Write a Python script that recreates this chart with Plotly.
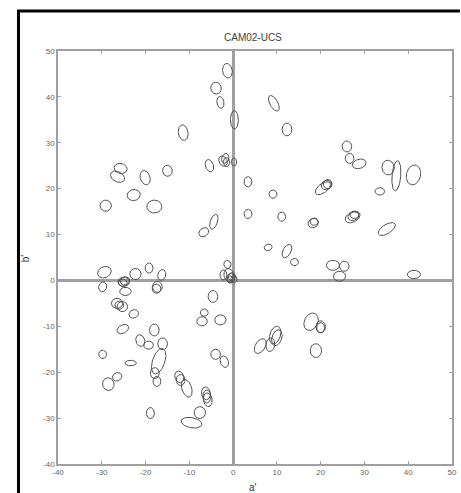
import numpy as np
import plotly.graph_objects as go

# Ellipse data: centre a', centre b', semi-axis 1, semi-axis 2, rotation (deg, CCW)
ell_a = [-1.3, -3.9, -2.9, 0.3, -11.4, -5.4, -2.3, -1.8, -1.5, 0.2,
         -25.7, -26.4, -20.1, -15.0, -22.7, -29.1, -18.0, -4.4, -6.7,
         9.3, 12.3, 26.0, 26.6, 28.8, 35.4, 37.3, 41.2, 33.5,
         20.5, 21.3, 21.6, 3.4, 9.1, 3.4, 11.1, 18.3, 18.5,
         27.3, 27.5, 27.7, 35.1, 8.0, 12.3, 14.0, 22.8, 25.4, 24.3, 41.3,
         17.8, 20.0, 20.0, 18.9, 9.6, 8.5, 6.2, 10.0,
         -2.9, -6.6, -7.1, -4.6, -29.4, -29.8, -25.0, -24.7, -25.2,
         -22.3, -19.2, -16.3, -17.3, -17.5, -24.6, -26.5, -25.3, -26.0,
         -22.7, -25.2, -18.0, -21.2, -19.3, -16.1, -29.8, -23.4, -17.0,
         -17.9, -17.4, -26.5, -28.5, -12.3, -12.0, -10.6, -6.2, -5.8, -6.0,
         -18.9, -7.6, -9.5, -4.0, -2.0,
         -1.0, -0.5, -0.3, -0.7, -1.3, -2.2, 0.2]
ell_b = [45.7, 41.9, 38.8, 35.0, 32.2, 25.0, 26.0, 26.6, 25.8, 25.8,
         24.4, 22.6, 22.4, 23.9, 18.6, 16.3, 16.1, 12.8, 10.5,
         38.6, 32.9, 29.2, 26.6, 25.4, 24.6, 22.8, 23.0, 19.4,
         20.1, 20.8, 21.0, 21.5, 18.8, 14.5, 13.9, 12.5, 12.8,
         13.8, 14.0, 14.3, 11.2, 7.2, 6.4, 4.0, 3.3, 3.1, 0.9, 1.3,
         -9.0, -10.1, -10.3, -15.3, -11.9, -14.0, -14.3, -12.5,
         -8.6, -7.0, -8.9, -3.5, 1.8, -1.4, -0.3, -0.1, -0.5,
         1.4, 2.7, 1.2, -1.4, -1.8, -2.4, -5.0, -5.7, -5.4,
         -7.3, -10.6, -10.8, -13.1, -14.1, -13.8, -16.1, -18.0, -17.6,
         -20.2, -22.0, -21.0, -22.6, -21.0, -21.7, -23.5, -24.6, -26.0, -25.3,
         -28.9, -28.8, -31.0, -16.1, -17.7,
         1.2, 0.5, 0.8, 0.2, 3.5, 1.2, 0.3]
ell_r1 = [1.1, 1.2, 0.8, 0.9, 1.1, 0.9, 0.9, 0.8, 0.7, 0.6,
          1.5, 1.7, 1.1, 1.1, 1.5, 1.3, 1.7, 0.8, 1.2,
          0.9, 1.1, 1.1, 1.0, 1.6, 1.4, 1.0, 1.6, 1.1,
          2.0, 1.2, 1.0, 0.9, 0.9, 0.9, 0.9, 1.2, 0.9,
          1.8, 1.3, 1.0, 2.2, 0.9, 0.9, 0.9, 1.5, 1.1, 1.4, 1.5,
          1.5, 1.1, 0.9, 1.3, 1.2, 1.0, 1.1, 1.1,
          1.3, 0.9, 1.2, 1.1, 1.6, 0.9, 1.3, 1.1, 1.0,
          1.3, 0.9, 0.9, 1.1, 1.0, 1.3, 1.3, 1.2, 1.0,
          1.1, 1.4, 1.1, 1.0, 1.1, 1.1, 0.9, 1.3, 1.4,
          1.0, 0.9, 1.1, 1.3, 1.0, 1.0, 1.1, 1.0, 1.0, 0.9,
          0.9, 1.3, 2.4, 1.1, 0.9,
          1.1, 0.9, 0.8, 0.7, 0.8, 0.8, 0.7]
ell_r2 = [1.6, 1.3, 1.3, 2.0, 1.7, 1.4, 1.2, 1.1, 1.0, 0.9,
          1.1, 1.1, 1.6, 1.2, 1.2, 1.2, 1.4, 1.7, 0.9,
          1.9, 1.4, 1.2, 1.1, 1.0, 1.6, 3.3, 2.2, 0.8,
          1.0, 1.0, 1.0, 1.1, 0.9, 1.0, 1.0, 1.0, 0.8,
          1.1, 0.9, 0.8, 1.0, 0.7, 1.6, 0.8, 1.1, 1.1, 1.1, 0.9,
          2.0, 1.3, 1.1, 1.5, 2.0, 1.5, 1.8, 1.8,
          1.1, 0.8, 1.0, 1.3, 1.2, 1.1, 1.0, 0.9, 0.8,
          1.2, 1.1, 1.2, 1.2, 1.0, 0.9, 1.1, 1.1, 0.9,
          0.9, 0.9, 1.3, 1.3, 0.9, 1.3, 0.9, 0.6, 2.9,
          1.2, 1.1, 0.9, 1.4, 1.3, 1.2, 2.0, 1.4, 1.5, 1.4,
          1.2, 1.3, 1.1, 1.1, 1.3,
          1.4, 1.0, 0.9, 0.8, 0.9, 1.1, 0.8]
ell_rot = [10, 20, 10, 0, 10, 20, 30, -20, 0, 0,
           -10, -25, 20, 10, 10, 0, 0, -20, 30,
           30, 0, 0, 0, 15, 10, -5, -15, 0,
           35, 20, 0, 0, 0, 0, 0, 20, 0,
           25, 20, 0, 30, 15, -30, 0, 0, 0, 0, 0,
           -30, 0, 0, 0, -20, -10, -35, -20,
           0, 0, 0, 0, 20, -20, 0, 10, 0,
           0, 0, -20, 0, 0, 0, 0, 0, 0,
           20, 25, 0, 20, 0, 0, 0, 0, -20,
           0, 0, 20, 20, 20, 0, 20, 10, 10, 0,
           0, 20, -10, 20, 20,
           10, 0, 0, 0, 20, 0, 0]

x_ticks = [-40, -30, -20, -10, 0, 10, 20, 30, 40, 50]
y_ticks = [-40, -30, -20, -10, 0, 10, 20, 30, 40, 50]

t = np.linspace(0, 2 * np.pi, 60)
xs, ys = [], []
for a, b, r1, r2, rot in zip(ell_a, ell_b, ell_r1, ell_r2, ell_rot):
    th = np.deg2rad(rot)
    ex = r1 * np.cos(t)
    ey = r2 * np.sin(t)
    xs.extend(list(a + ex * np.cos(th) - ey * np.sin(th)) + [None])
    ys.extend(list(b + ex * np.sin(th) + ey * np.cos(th)) + [None])

fig = go.Figure()
fig.add_trace(go.Scatter(x=xs, y=ys, mode="lines",
                         line=dict(color="#505050", width=1), hoverinfo="skip"))

axis_common = dict(showgrid=False, showline=True, linecolor="#a0a0a0", linewidth=1.5,
                   mirror="ticks", ticks="inside", ticklen=3, tickcolor="#a0a0a0",
                   zeroline=True, zerolinecolor="#a0a0a0", zerolinewidth=2.5,
                   tickfont=dict(family="Liberation Sans, Arial", size=8, color="#666"))
fig.update_xaxes(range=[-40, 50], tickvals=x_ticks, ticktext=[str(v) for v in x_ticks], **axis_common)
fig.update_yaxes(range=[-40, 50], tickvals=y_ticks, ticktext=[str(v) for v in y_ticks], **axis_common)

fig.update_layout(
    width=461, height=493,
    margin=dict(l=58, r=4, t=51, b=29),
    plot_bgcolor="white", paper_bgcolor="white",
    showlegend=False,
    annotations=[
        dict(text="CAM02-UCS", x=0.496, y=1.0315, xref="paper", yref="paper",
             xanchor="center", yanchor="middle",
             showarrow=False, font=dict(family="Liberation Sans, Arial", size=10, color="#444")),
        dict(text="a'", x=0.496, y=-0.0557, xref="paper", yref="paper",
             xanchor="center", yanchor="middle",
             showarrow=False, font=dict(family="Liberation Sans, Arial", size=10, color="#333")),
        dict(text="b'", x=-0.0827, y=0.499, xref="paper", yref="paper", textangle=-90,
             xanchor="center", yanchor="middle",
             showarrow=False, font=dict(family="Liberation Sans, Arial", size=10, color="#333")),
    ],
    shapes=[
        dict(type="line", xref="paper", yref="paper", x0=-0.1003, x1=-0.1003, y0=1.099, y1=-0.075,
             line=dict(color="black", width=3)),
        dict(type="line", xref="paper", yref="paper", x0=-0.104, x1=1.02, y0=1.097, y1=1.097,
             line=dict(color="black", width=3)),
    ],
)

fig.write_html("out.html")
